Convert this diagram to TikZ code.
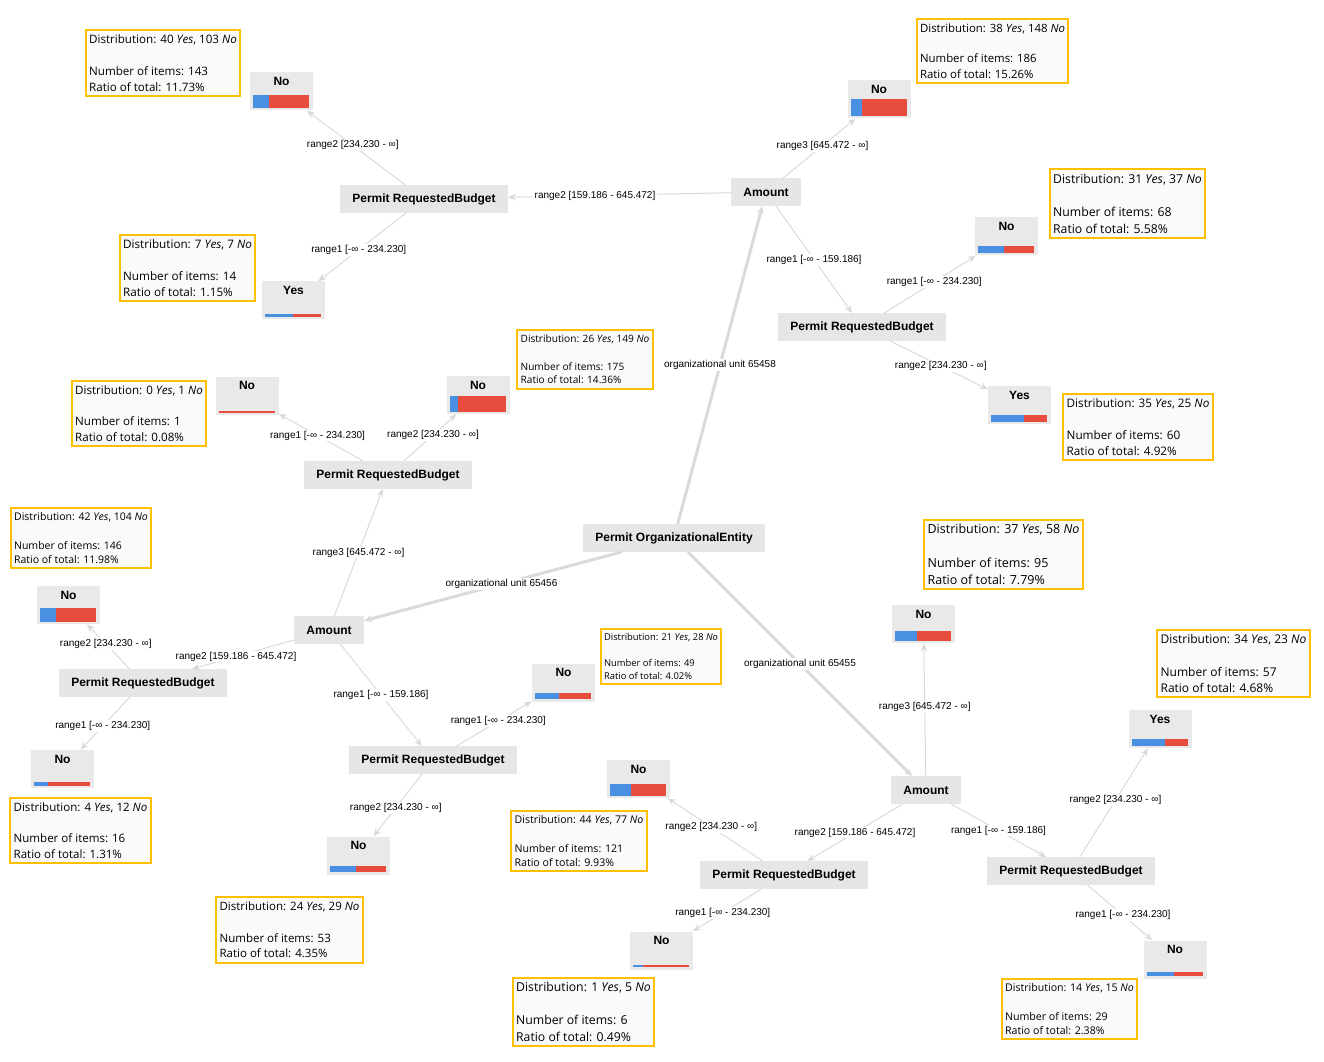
\documentclass[tikz,border=0pt]{standalone}
\usepackage{fontspec}
\setmainfont{Liberation Sans}
\newfontfamily\distfont{Open Sans}
\usepackage{tikz}
\usepackage{xcolor}
\usetikzlibrary{arrows.meta}
\usetikzlibrary{calc}
\definecolor{boxgray}{HTML}{E6E6E6}
\definecolor{leafgray}{HTML}{E9E9E9}
\definecolor{edgegray}{HTML}{DADADA}
\definecolor{yescol}{HTML}{4A90E2}
\definecolor{nocol}{HTML}{E74C3C}
\definecolor{distborder}{HTML}{FFC000}
\definecolor{distfill}{HTML}{FAFAFA}
\tikzstyle{test} = [rectangle, fill=boxgray, minimum height=20.5pt, inner xsep=9pt, text centered, font=\bfseries\fontsize{9}{10}\selectfont]
\tikzstyle{leaf} = [rectangle, fill=leafgray, minimum width=47.25pt, inner ysep=3pt, text height=6.75pt, text depth=15.75pt, font=\bfseries\fontsize{9}{10}\selectfont]
\tikzstyle{dist} = [rectangle, draw=distborder, line width=1.5pt, fill=distfill, align=left, inner xsep=2.5pt, inner ysep=3.5pt]
\tikzstyle{cond} = [fill=white, inner sep=1pt, font=\fontsize{7.5}{9}\selectfont]
\tikzstyle{arrow} = [->, >={Stealth[length=6pt,width=5pt]}, draw=edgegray, line width=0.75pt]
\tikzstyle{mainarrow} = [arrow, line width=2.25pt]
\newcommand{\dsize}[2]{\distfont\fontsize{#1}{#2}\selectfont}
\newcommand{\distinfo}[4]{Distribution: #1 \textit{Yes}, #2 \textit{No}\\[\baselineskip]Number of items: #3\\Ratio of total: #4\%}
\newcommand{\leafbar}[3]{%
  \pgfmathsetmacro{\bh}{1.5+0.06*(#2+#3)}%
  \pgfmathsetmacro{\bw}{42*#2/(#2+#3)}%
  \pgfmathsetmacro{\bx}{2.6+\bw}%
  \pgfmathsetmacro{\rw}{42-\bw}%
  \fill[yescol] ([xshift=2.6pt,yshift=1.9pt]#1.south west) rectangle ++(\bw pt,\bh pt);
  \fill[nocol] ([xshift=\bx pt,yshift=1.9pt]#1.south west) rectangle ++(\rw pt,\bh pt);
}

\begin{document}
\begin{tikzpicture}[x=0.75pt, y=-0.75pt]
    \useasboundingbox (0,0) rectangle (1324,1062);

    \node (root) [test] at (674,538) {Permit OrganizationalEntity};
    \node (amtA) [test] at (766,192) {Amount};
    \node (amtB) [test] at (329,630) {Amount};
    \node (amtC) [test] at (926,790) {Amount};
    \node (prbA1) [test] at (424,199) {Permit RequestedBudget};
    \node (prbA2) [test] at (862,327) {Permit RequestedBudget};
    \node (prbB1) [test] at (388,475) {Permit RequestedBudget};
    \node (prbB2) [test] at (143,683) {Permit RequestedBudget};
    \node (prbB3) [test] at (433,760) {Permit RequestedBudget};
    \node (prbC1) [test] at (784,875) {Permit RequestedBudget};
    \node (prbC2) [test] at (1071,871) {Permit RequestedBudget};

    \node (lfA0) [leaf] at (879,99.5) {No};
    \node (lfA11) [leaf] at (281.5,91.5) {No};
    \node (lfA12) [leaf] at (293.5,300.5) {Yes};
    \node (lfA21) [leaf] at (1006.5,236.5) {No};
    \node (lfA22) [leaf] at (1019.5,405) {Yes};
    \node (lfB11) [leaf] at (247,396) {No};
    \node (lfB12) [leaf] at (478,395) {No};
    \node (lfB21) [leaf] at (68.5,605) {No};
    \node (lfB22) [leaf] at (62.5,769) {No};
    \node (lfB31) [leaf] at (563.5,682.5) {No};
    \node (lfB32) [leaf] at (358.5,855.5) {No};
    \node (lfC0) [leaf] at (923.5,624) {No};
    \node (lfC11) [leaf] at (638.5,779) {No};
    \node (lfC12) [leaf] at (661.5,950.5) {No};
    \node (lfC21) [leaf] at (1160,729) {Yes};
    \node (lfC22) [leaf] at (1175,959.5) {No};

    \leafbar{lfA0}{38}{148}
    \leafbar{lfA11}{40}{103}
    \leafbar{lfA12}{7}{7}
    \leafbar{lfA21}{31}{37}
    \leafbar{lfA22}{35}{25}
    \leafbar{lfB11}{0}{1}
    \leafbar{lfB12}{26}{149}
    \leafbar{lfB21}{42}{104}
    \leafbar{lfB22}{4}{12}
    \leafbar{lfB31}{21}{28}
    \leafbar{lfB32}{24}{29}
    \leafbar{lfC0}{37}{58}
    \leafbar{lfC11}{44}{77}
    \leafbar{lfC12}{1}{5}
    \leafbar{lfC21}{34}{23}
    \leafbar{lfC22}{14}{15}

    \draw [mainarrow] (root) -- (amtA);
    \draw [mainarrow] (root) -- (amtB);
    \draw [mainarrow] (root) -- (amtC);
    \draw [arrow] (amtA) -- (lfA0);
    \draw [arrow] (amtA) -- (prbA1);
    \draw [arrow] (amtA) -- (prbA2);
    \draw [arrow] (prbA1) -- (lfA11);
    \draw [arrow] (prbA1) -- (lfA12);
    \draw [arrow] (prbA2) -- (lfA21);
    \draw [arrow] (prbA2) -- (lfA22);
    \draw [arrow] (amtB) -- (prbB1);
    \draw [arrow] (amtB) -- (prbB2);
    \draw [arrow] (amtB) -- (prbB3);
    \draw [arrow] (prbB1) -- (lfB11);
    \draw [arrow] (prbB1) -- (lfB12);
    \draw [arrow] (prbB2) -- (lfB21);
    \draw [arrow] (prbB2) -- (lfB22);
    \draw [arrow] (prbB3) -- (lfB31);
    \draw [arrow] (prbB3) -- (lfB32);
    \draw [arrow] (amtC) -- (lfC0);
    \draw [arrow] (amtC) -- (prbC1);
    \draw [arrow] (amtC) -- (prbC2);
    \draw [arrow] (prbC1) -- (lfC11);
    \draw [arrow] (prbC1) -- (lfC12);
    \draw [arrow] (prbC2) -- (lfC21);
    \draw [arrow] (prbC2) -- (lfC22);

    \node (c1) [cond] at ($(root)!0.5!(amtA)$) {organizational unit 65458};
    \node (c2) [cond] at ($(root)!0.5!(amtB)$) {organizational unit 65456};
    \node (c3) [cond] at ($(root)!0.5!(amtC)$) {organizational unit 65455};
    \node (c4) [cond] at ($(amtA)!0.5!(lfA0)$) {range3 [645.472 - ∞]};
    \node (c5) [cond] at ($(amtA)!0.5!(prbA1)$) {range2 [159.186 - 645.472]};
    \node (c6) [cond] at ($(amtA)!0.5!(prbA2)$) {range1 [-∞ - 159.186]};
    \node (c7) [cond] at ($(prbA1)!0.5!(lfA11)$) {range2 [234.230 - ∞]};
    \node (c8) [cond] at ($(prbA1)!0.5!(lfA12)$) {range1 [-∞ - 234.230]};
    \node (c9) [cond] at ($(prbA2)!0.5!(lfA21)$) {range1 [-∞ - 234.230]};
    \node (c10) [cond] at ($(prbA2)!0.5!(lfA22)$) {range2 [234.230 - ∞]};
    \node (c11) [cond] at ($(amtB)!0.5!(prbB1)$) {range3 [645.472 - ∞]};
    \node (c12) [cond] at ($(amtB)!0.5!(prbB2)$) {range2 [159.186 - 645.472]};
    \node (c13) [cond] at ($(amtB)!0.5!(prbB3)$) {range1 [-∞ - 159.186]};
    \node (c14) [cond] at ($(prbB1)!0.5!(lfB11)$) {range1 [-∞ - 234.230]};
    \node (c15) [cond] at ($(prbB1)!0.5!(lfB12)$) {range2 [234.230 - ∞]};
    \node (c16) [cond] at ($(prbB2)!0.5!(lfB21)$) {range2 [234.230 - ∞]};
    \node (c17) [cond] at ($(prbB2)!0.5!(lfB22)$) {range1 [-∞ - 234.230]};
    \node (c18) [cond] at ($(prbB3)!0.5!(lfB31)$) {range1 [-∞ - 234.230]};
    \node (c19) [cond] at ($(prbB3)!0.5!(lfB32)$) {range2 [234.230 - ∞]};
    \node (c20) [cond] at ($(amtC)!0.5!(lfC0)$) {range3 [645.472 - ∞]};
    \node (c21) [cond] at ($(amtC)!0.5!(prbC1)$) {range2 [159.186 - 645.472]};
    \node (c22) [cond] at ($(amtC)!0.5!(prbC2)$) {range1 [-∞ - 159.186]};
    \node (c23) [cond] at ($(prbC1)!0.5!(lfC11)$) {range2 [234.230 - ∞]};
    \node (c24) [cond] at ($(prbC1)!0.5!(lfC12)$) {range1 [-∞ - 234.230]};
    \node (c25) [cond] at ($(prbC2)!0.5!(lfC21)$) {range2 [234.230 - ∞]};
    \node (c26) [cond] at ($(prbC2)!0.5!(lfC22)$) {range1 [-∞ - 234.230]};

    \node (dA0) [dist, font=\dsize{8.54}{11.6}] at (992.5,51) {\distinfo{38}{148}{186}{15.26}};
    \node (dA11) [dist, font=\dsize{8.71}{11.85}] at (163,63) {\distinfo{40}{103}{143}{11.73}};
    \node (dA12) [dist, font=\dsize{8.77}{11.9}] at (187.5,268) {\distinfo{7}{7}{14}{1.15}};
    \node (dA21) [dist, font=\dsize{9.18}{12.5}] at (1127.5,203.5) {\distinfo{31}{37}{68}{5.58}};
    \node (dA22) [dist, font=\dsize{8.81}{12}] at (1138,427) {\distinfo{35}{25}{60}{4.92}};
    \node (dB11) [dist, font=\dsize{8.7}{11.8}] at (139,413.5) {\distinfo{0}{1}{1}{0.08}};
    \node (dB12) [dist, font=\dsize{7.59}{10.3}] at (585,359.5) {\distinfo{26}{149}{175}{14.36}};
    \node (dB21) [dist, font=\dsize{7.89}{10.7}] at (81,538) {\distinfo{42}{104}{146}{11.98}};
    \node (dB22) [dist, font=\dsize{8.66}{11.8}] at (80.5,830.5) {\distinfo{4}{12}{16}{1.31}};
    \node (dB31) [dist, font=\dsize{7.03}{9.6}] at (661,656.5) {\distinfo{21}{28}{49}{4.02}};
    \node (dB32) [dist, font=\dsize{8.63}{11.7}] at (289.5,930) {\distinfo{24}{29}{53}{4.35}};
    \node (dC0) [dist, font=\dsize{9.37}{12.7}] at (1003.5,554.5) {\distinfo{37}{58}{95}{7.79}};
    \node (dC11) [dist, font=\dsize{7.95}{10.8}] at (579,841) {\distinfo{44}{77}{121}{9.93}};
    \node (dC12) [dist, font=\dsize{9.18}{12.5}] at (583.5,1012) {\distinfo{1}{5}{6}{0.49}};
    \node (dC21) [dist, font=\dsize{9}{12.2}] at (1233.5,663.5) {\distinfo{34}{23}{57}{4.68}};
    \node (dC22) [dist, font=\dsize{7.95}{10.8}] at (1069.5,1009) {\distinfo{14}{15}{29}{2.38}};
\end{tikzpicture}
\end{document}
